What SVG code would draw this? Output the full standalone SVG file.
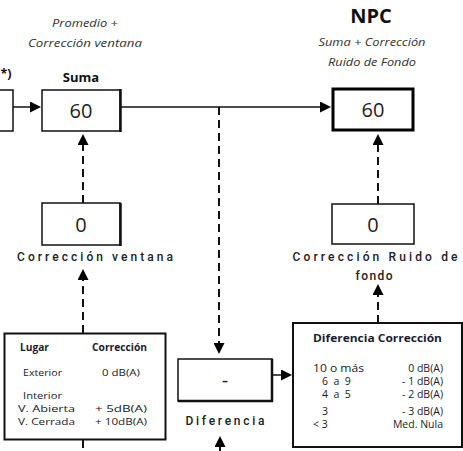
<svg xmlns="http://www.w3.org/2000/svg" width="463" height="451" viewBox="0 0 463 451">
<defs>
<style>
.box{fill:#fff;stroke:#111;stroke-width:1.5}
.thick{fill:#fff;stroke:#000;stroke-width:3}
.val{font-family:"Open Sans","Liberation Sans",sans-serif;font-size:20px;fill:#222;text-anchor:middle}
.it{font-family:"Open Sans","Liberation Sans",sans-serif;font-style:italic;font-size:10.5px;fill:#333;text-anchor:middle}
.bold{font-family:"Open Sans","Liberation Sans",sans-serif;font-weight:bold;fill:#111;text-anchor:middle}
.lbl{font-family:Roboto,"Liberation Sans",sans-serif;font-weight:500;font-size:12px;fill:#222;text-anchor:middle}
.tb{font-family:"Open Sans","Liberation Sans",sans-serif;font-size:10.5px;fill:#1a1a30}
.tl{font-family:"Open Sans","Liberation Sans",sans-serif;font-size:9.5px;fill:#1a1a30}
.tbb{font-family:"Open Sans","Liberation Sans",sans-serif;font-size:10.5px;font-weight:bold;fill:#1a1a30}
.solid{fill:none;stroke:#111;stroke-width:1.5}
.dash{fill:none;stroke:#111;stroke-width:2;stroke-dasharray:8 5}
</style>
<marker id="ah" viewBox="0 0 12 12" refX="0" refY="6" markerWidth="12" markerHeight="11" markerUnits="userSpaceOnUse" orient="auto">
<path d="M0,0 L12,6 L0,12 z" fill="#000"/>
</marker>
</defs>

<g id="connectors">
<path class="solid" d="M13,107 L30,107" marker-end="url(#ah)"/>
<path class="solid" d="M121,107 L320,107" marker-end="url(#ah)"/>
<path class="dash" d="M83,203 L83,145" marker-end="url(#ah)"/>
<path class="dash" d="M83,333 L83,280" marker-end="url(#ah)"/>
<path class="dash" d="M83,440 L83,451"/>
<path class="dash" d="M219,107 L219,343" marker-end="url(#ah)"/>
<path class="dash" d="M220,451 L220,447" marker-end="url(#ah)"/>
<path class="solid" d="M272,375 L281,375" marker-end="url(#ah)"/>
<path class="dash" d="M378,204 L378,145" marker-end="url(#ah)"/>
<path class="dash" d="M378,323 L378,295" marker-end="url(#ah)"/>
</g>

<g id="input">
<rect class="box" x="-10" y="90" width="23" height="41"/>
<text class="bold" x="6" y="78" font-size="12.5">*)</text>
</g>

<g id="suma">
<text class="it" x="85" y="27" textLength="66" lengthAdjust="spacingAndGlyphs">Promedio +</text>
<text class="it" x="85" y="47" textLength="114" lengthAdjust="spacingAndGlyphs">Corrección ventana</text>
<text class="bold" x="81" y="82" font-size="13">Suma</text>
<rect class="box" x="42" y="90" width="78" height="41"/>
<line x1="120.5" y1="89" x2="120.5" y2="132" stroke="#111" stroke-width="2.5"/>
<text class="val" x="81" y="118">60</text>
</g>

<g id="npc">
<text class="bold" x="371" y="23" font-size="20">NPC</text>
<text class="it" x="372" y="46" textLength="107" lengthAdjust="spacingAndGlyphs">Suma + Corrección</text>
<text class="it" x="372" y="66" textLength="88" lengthAdjust="spacingAndGlyphs">Ruido de Fondo</text>
<rect class="thick" x="333" y="89" width="80" height="41"/>
<text class="val" x="373" y="117">60</text>
</g>

<g id="correccion-ventana">
<rect class="box" x="42" y="203" width="78" height="42"/>
<line x1="120.5" y1="203" x2="120.5" y2="246" stroke="#111" stroke-width="2.5"/>
<text class="val" x="81" y="232">0</text>
<text class="lbl" x="95" y="261" textLength="156" lengthAdjust="spacing">Corrección ventana</text>
</g>

<g id="correccion-ruido">
<rect class="box" x="332" y="204" width="82" height="40"/>
<text class="val" x="373" y="232">0</text>
<text class="lbl" x="375" y="261" textLength="165" lengthAdjust="spacing">Corrección Ruido de</text>
<text class="lbl" x="374" y="280" textLength="37" lengthAdjust="spacing">fondo</text>
</g>

<g id="lugar-table">
<rect x="4.5" y="333.5" width="161" height="106" fill="#fff" stroke="#111" stroke-width="2"/>
<text class="tbb" x="20" y="351" textLength="29" lengthAdjust="spacingAndGlyphs">Lugar</text>
<text class="tbb" x="92" y="351" textLength="55" lengthAdjust="spacingAndGlyphs">Corrección</text>
<text class="tl" x="23" y="376" textLength="39" lengthAdjust="spacingAndGlyphs">Exterior</text>
<text class="tl" x="102" y="376" textLength="38" lengthAdjust="spacingAndGlyphs">0 dB(A)</text>
<text class="tl" x="23" y="399" textLength="39" lengthAdjust="spacingAndGlyphs">Interior</text>
<text class="tl" x="18" y="412" textLength="57" lengthAdjust="spacingAndGlyphs">V. Abierta</text>
<text class="tl" x="18" y="425" textLength="57" lengthAdjust="spacingAndGlyphs">V. Cerrada</text>
<text class="tl" x="95" y="412" textLength="52" lengthAdjust="spacingAndGlyphs">+ 5dB(A)</text>
<text class="tl" x="95" y="425" textLength="52" lengthAdjust="spacingAndGlyphs">+ 10dB(A)</text>
</g>

<g id="diferencia">
<rect class="box" x="178" y="359" width="94" height="42"/>
<line x1="178" y1="401" x2="273" y2="401" stroke="#111" stroke-width="2.5"/>
<line x1="272" y1="359" x2="272" y2="402" stroke="#111" stroke-width="2.5"/>
<text class="val" x="225" y="387" font-size="14">-</text>
<text class="lbl" x="225" y="425" textLength="79" lengthAdjust="spacing">Diferencia</text>
</g>

<g id="diferencia-table">
<rect x="293" y="323" width="169" height="124" fill="#fff" stroke="#111" stroke-width="2"/>
<text class="tbb" x="313" y="342" textLength="129" lengthAdjust="spacingAndGlyphs">Diferencia Corrección</text>
<text class="tb" x="313" y="372" font-size="11.5" textLength="51" lengthAdjust="spacingAndGlyphs">10 o más</text>
<text class="tb" x="322" y="385" font-size="11.5" xml:space="preserve">6  a  9</text>
<text class="tb" x="322" y="398" font-size="11.5" xml:space="preserve">4  a  5</text>
<text class="tb" x="322" y="415" font-size="11.5">3</text>
<text class="tb" x="313" y="428" font-size="11.5">&lt; 3</text>
<text class="tb" x="443" y="372" font-size="11.5" text-anchor="end">0 dB(A)</text>
<text class="tb" x="443" y="385" font-size="11.5" text-anchor="end">- 1 dB(A)</text>
<text class="tb" x="443" y="398" font-size="11.5" text-anchor="end">- 2 dB(A)</text>
<text class="tb" x="443" y="415" font-size="11.5" text-anchor="end">- 3 dB(A)</text>
<text class="tb" x="443" y="428" font-size="11.5" text-anchor="end">Med. Nula</text>
</g>
</svg>
